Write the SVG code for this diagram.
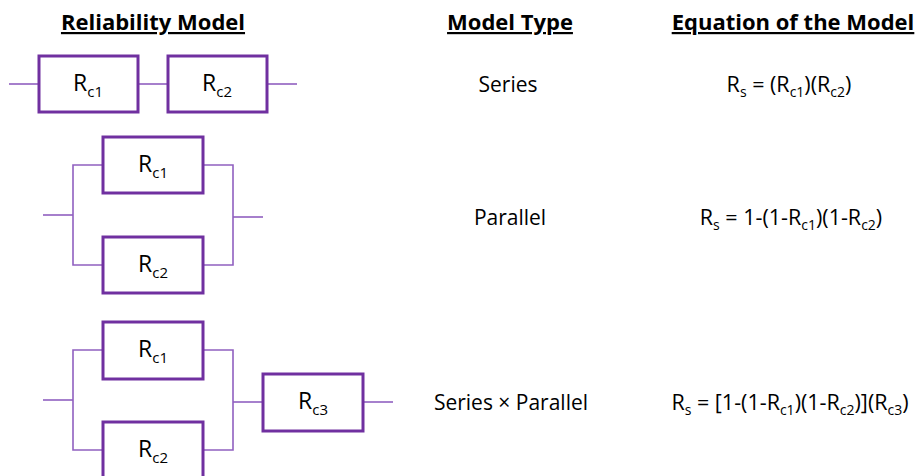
<svg xmlns="http://www.w3.org/2000/svg" width="919" height="476" viewBox="0 0 919 476">
  <style>
    .box { fill: #ffffff; stroke: #7030A0; stroke-width: 3; }
    .wire { fill: none; stroke: #9060C0; stroke-width: 1.6; }
    .txt { font-family: "Open Sans", "Liberation Sans", sans-serif; fill: #000000; text-anchor: middle; }
    .lbl { font-size: 23px; }
    .lbl .sub { font-size: 15px; }
    .type { font-size: 21px; }
    .eq { font-size: 21.5px; }
    .eq .sub { font-size: 14px; }
    .head { font-size: 22px; font-weight: bold; text-decoration: underline; }
  </style>

  <!-- column headings -->
  <g id="headings">
    <text class="txt head" x="153" y="30">Reliability Model</text>
    <text class="txt head" x="510" y="30">Model Type</text>
    <text class="txt head" x="793" y="30">Equation of the Model</text>
  </g>

  <!-- wiring between blocks -->
  <g id="connectors">
    <!-- series -->
    <line class="wire" x1="9" y1="84" x2="39" y2="84"/>
    <line class="wire" x1="138" y1="84" x2="168" y2="84"/>
    <line class="wire" x1="267" y1="84" x2="297" y2="84"/>
    <!-- parallel -->
    <line class="wire" x1="43" y1="215" x2="73" y2="215"/>
    <polyline class="wire" points="103,165 73,165 73,265 103,265"/>
    <polyline class="wire" points="203,165 233,165 233,265 203,265"/>
    <line class="wire" x1="233" y1="217" x2="263" y2="217"/>
    <!-- series x parallel -->
    <line class="wire" x1="43" y1="400" x2="73" y2="400"/>
    <polyline class="wire" points="103,350 73,350 73,450 103,450"/>
    <polyline class="wire" points="203,350 233,350 233,450 203,450"/>
    <line class="wire" x1="233" y1="402" x2="263" y2="402"/>
    <line class="wire" x1="363" y1="402" x2="393" y2="402"/>
  </g>

  <!-- series model -->
  <g id="s-rc1">
    <rect class="box" x="39" y="56" width="99" height="56"/>
    <text class="txt lbl" x="88" y="91">R<tspan class="sub" dy="6">c1</tspan></text>
  </g>
  <g id="s-rc2">
    <rect class="box" x="168" y="56" width="99" height="56"/>
    <text class="txt lbl" x="217" y="91">R<tspan class="sub" dy="6">c2</tspan></text>
  </g>

  <!-- parallel model -->
  <g id="p-rc1">
    <rect class="box" x="103" y="137" width="100" height="56"/>
    <text class="txt lbl" x="153" y="172">R<tspan class="sub" dy="6">c1</tspan></text>
  </g>
  <g id="p-rc2">
    <rect class="box" x="103" y="237" width="100" height="56"/>
    <text class="txt lbl" x="153" y="272">R<tspan class="sub" dy="6">c2</tspan></text>
  </g>

  <!-- series x parallel model -->
  <g id="sp-rc1">
    <rect class="box" x="103" y="322" width="100" height="57"/>
    <text class="txt lbl" x="153" y="357">R<tspan class="sub" dy="6">c1</tspan></text>
  </g>
  <g id="sp-rc2">
    <rect class="box" x="103" y="422" width="100" height="60"/>
    <text class="txt lbl" x="153" y="457">R<tspan class="sub" dy="6">c2</tspan></text>
  </g>
  <g id="sp-rc3">
    <rect class="box" x="263" y="374" width="100" height="57"/>
    <text class="txt lbl" x="313" y="409">R<tspan class="sub" dy="6">c3</tspan></text>
  </g>

  <!-- model types -->
  <g id="types">
    <text class="txt type" x="508" y="92">Series</text>
    <text class="txt type" x="510" y="225">Parallel</text>
    <text class="txt type" x="511" y="410">Series × Parallel</text>
  </g>

  <!-- equations -->
  <g id="equations">
    <text class="txt eq" x="789" y="92">R<tspan class="sub" dy="5">s</tspan><tspan dy="-5"> = (R</tspan><tspan class="sub" dy="5">c1</tspan><tspan dy="-5">)(R</tspan><tspan class="sub" dy="5">c2</tspan><tspan dy="-5">)</tspan></text>
    <text class="txt eq" x="791" y="225">R<tspan class="sub" dy="5">s</tspan><tspan dy="-5"> = 1-(1-R</tspan><tspan class="sub" dy="5">c1</tspan><tspan dy="-5">)(1-R</tspan><tspan class="sub" dy="5">c2</tspan><tspan dy="-5">)</tspan></text>
    <text class="txt eq" x="790" y="410">R<tspan class="sub" dy="5">s</tspan><tspan dy="-5"> = [1-(1-R</tspan><tspan class="sub" dy="5">c1</tspan><tspan dy="-5">)(1-R</tspan><tspan class="sub" dy="5">c2</tspan><tspan dy="-5">)](R</tspan><tspan class="sub" dy="5">c3</tspan><tspan dy="-5">)</tspan></text>
  </g>
</svg>
